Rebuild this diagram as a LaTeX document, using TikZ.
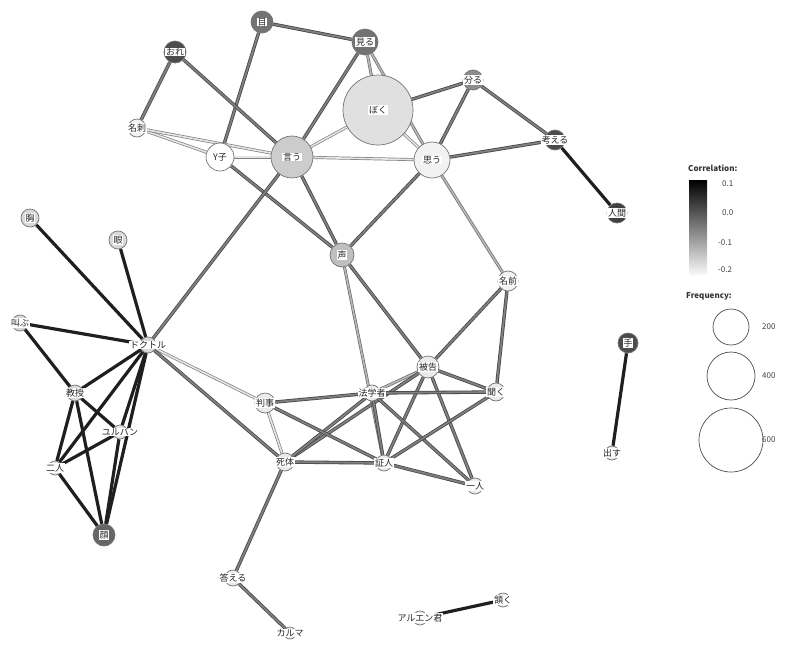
\documentclass[tikz,border=0pt]{standalone}
\usepackage{fontspec}
\setmainfont{Noto Sans CJK JP}
\usetikzlibrary{backgrounds}
\tikzset{
  kwc/.style={circle,draw=black!55,line width=0.7pt,inner sep=0pt},
  lbl/.style={fill=white,inner sep=0.6pt,font=\fontsize{9}{10}\selectfont,text=black!85},
  edk/.style={draw=black!72,line width=0.8pt,double=black!50,double distance=1.8pt},
  elt/.style={draw=black!50,line width=0.7pt,double=black!10,double distance=1.6pt},
  emd/.style={draw=black!58,line width=0.7pt,double=black!28,double distance=1.6pt},
  ebk/.style={draw=black!88,line width=3.2pt},
  leg/.style={font=\fontsize{8}{9}\selectfont,text=black!75,inner sep=0pt},
  legb/.style={font=\bfseries\fontsize{8}{9}\selectfont,text=black!80,inner sep=0pt}
}
\newcommand\kw[6]{\node[kwc,fill=#5,minimum size=#4pt] (#1) at (#2,#3) {};\node[lbl] (#1-t) at (#1) {#6};}
\begin{document}
\begin{tikzpicture}[x=1pt,y=-1pt]
\useasboundingbox (0,0) rectangle (796,646);
% nodes
\kw{me}{262}{22}{22}{black!55}{目}
\kw{miru}{365}{42}{26}{black!55}{見る}
\kw{ore}{175}{52}{22}{black!70}{おれ}
\kw{boku}{378}{110}{70}{black!12}{ぼく}
\kw{wakaru}{473}{80}{20}{black!45}{分る}
\kw{meishi}{137}{128}{18}{black!5}{名刺}
\kw{yko}{220}{157}{28}{white}{Y子}
\kw{iu}{292}{157}{42}{black!20}{言う}
\kw{omou}{432}{160}{36}{black!5}{思う}
\kw{kangaeru}{555}{140}{20}{black!70}{考える}
\kw{ningen}{617}{213}{20}{black!75}{人間}
\kw{mune}{30}{218}{18}{black!15}{胸}
\kw{me2}{118}{240}{18}{black!15}{眼}
\kw{sakebu}{20}{323}{16}{black!15}{叫ぶ}
\kw{doc}{148}{345}{16}{black!15}{ドクトル}
\kw{kyoju}{75}{393}{16}{black!15}{教授}
\kw{yur}{120}{432}{14}{black!10}{ユルバン}
\kw{futari}{55}{468}{14}{black!10}{二人}
\kw{kao}{104}{535}{22}{black!60}{顔}
\kw{koe}{342}{255}{24}{black!25}{声}
\kw{namae}{508}{281}{20}{black!5}{名前}
\kw{hikoku}{428}{367}{22}{black!8}{被告}
\kw{kiku}{496}{392}{18}{black!8}{聞く}
\kw{hogaku}{372}{393}{16}{black!8}{法学者}
\kw{hanji}{265}{403}{20}{black!8}{判事}
\kw{shitai}{285}{462}{18}{black!8}{死体}
\kw{shonin}{384}{463}{16}{black!8}{証人}
\kw{hitori}{475}{486}{16}{black!8}{一人}
\kw{te}{628}{343}{20}{black!70}{手}
\kw{dasu}{612}{453}{14}{black!10}{出す}
\kw{kotae}{233}{578}{16}{black!8}{答える}
\kw{karuma}{290}{633}{12}{black!8}{カルマ}
\kw{aru}{420}{618}{14}{black!8}{アルエン君}
\kw{unazuku}{503}{600}{14}{black!8}{頷く}
% edges
\begin{pgfonlayer}{background}
\draw[edk] (me) -- (miru);
\draw[edk] (me) -- (yko);
\draw[edk] (ore) -- (meishi);
\draw[edk] (ore) -- (iu);
\draw[elt] (meishi) -- (yko);
\draw[elt] (meishi) -- (iu);
\draw[edk] (yko) -- (koe);
\draw[elt] (yko) -- (iu);
\draw[edk] (miru) -- (iu);
\draw[emd] (miru) -- (boku);
\draw[emd] (miru) -- (omou);
\draw[edk] (boku) -- (wakaru);
\draw[elt] (boku) -- (iu);
\draw[elt] (boku) -- (omou);
\draw[edk] (wakaru) -- (omou);
\draw[edk] (wakaru) -- (kangaeru);
\draw[ebk] (kangaeru) -- (ningen);
\draw[edk] (omou) -- (kangaeru);
\draw[elt] (iu) -- (omou);
\draw[edk] (iu) -- (koe);
\draw[edk] (iu) -- (doc);
\draw[edk] (omou) -- (koe);
\draw[emd] (omou) -- (namae);
\draw[edk] (koe) -- (hikoku);
\draw[emd] (koe) -- (shonin);
\draw[edk] (namae) -- (hikoku);
\draw[edk] (namae) -- (kiku);
\draw[emd] (hikoku) -- (hogaku);
\draw[edk] (hikoku) -- (kiku);
\draw[edk] (hikoku) -- (shonin);
\draw[edk] (hikoku) -- (hitori);
\draw[edk] (hikoku) -- (shitai);
\draw[edk] (hogaku) -- (kiku);
\draw[edk] (hogaku) -- (hanji);
\draw[edk] (hogaku) -- (shitai);
\draw[edk] (hogaku) -- (shonin);
\draw[edk] (hogaku) -- (hitori);
\draw[elt] (hanji) -- (shitai);
\draw[edk] (hanji) -- (shonin);
\draw[edk] (kiku) -- (shonin);
\draw[edk] (shitai) -- (shonin);
\draw[edk] (shonin) -- (hitori);
\draw[elt] (doc) -- (hanji);
\draw[edk] (doc) -- (shitai);
\draw[edk] (shitai) -- (kotae);
\draw[edk] (kotae) -- (karuma);
\draw[ebk] (aru) -- (unazuku);
\draw[ebk] (te) -- (dasu);
\draw[ebk] (mune) -- (doc);
\draw[ebk] (me2) -- (doc);
\draw[ebk] (sakebu) -- (doc);
\draw[ebk] (sakebu) -- (kyoju);
\draw[ebk] (doc) -- (kyoju);
\draw[ebk] (doc) -- (yur);
\draw[ebk] (doc) -- (futari);
\draw[ebk] (doc) -- (kao);
\draw[ebk] (kyoju) -- (yur);
\draw[ebk] (kyoju) -- (futari);
\draw[ebk] (kyoju) -- (kao);
\draw[ebk] (yur) -- (futari);
\draw[ebk] (yur) -- (kao);
\draw[ebk] (futari) -- (kao);
\end{pgfonlayer}
% legend
\node[legb,anchor=west] (lc) at (688,168) {Correlation:};
\shade[top color=black,bottom color=black!3] (689,180) rectangle (707,274);
\node[leg,anchor=west] (l1) at (722,184) {0.1};
\node[leg,anchor=west] (l2) at (722,213) {0.0};
\node[leg,anchor=west] (l3) at (718,243) {-0.1};
\node[leg,anchor=west] (l4) at (718,270) {-0.2};
\node[legb,anchor=west] (lf) at (686,296) {Frequency:};
\node[circle,draw=black!70,line width=0.7pt,minimum size=36pt,inner sep=0] (f1) at (731,327) {};
\node[leg,anchor=west] (f1t) at (762,327) {200};
\node[circle,draw=black!70,line width=0.7pt,minimum size=48pt,inner sep=0] (f2) at (731,376) {};
\node[leg,anchor=west] (f2t) at (762,376) {400};
\node[circle,draw=black!70,line width=0.7pt,minimum size=64pt,inner sep=0] (f3) at (731,440) {};
\node[leg,anchor=west] (f3t) at (762,440) {600};
\end{tikzpicture}
\end{document}
